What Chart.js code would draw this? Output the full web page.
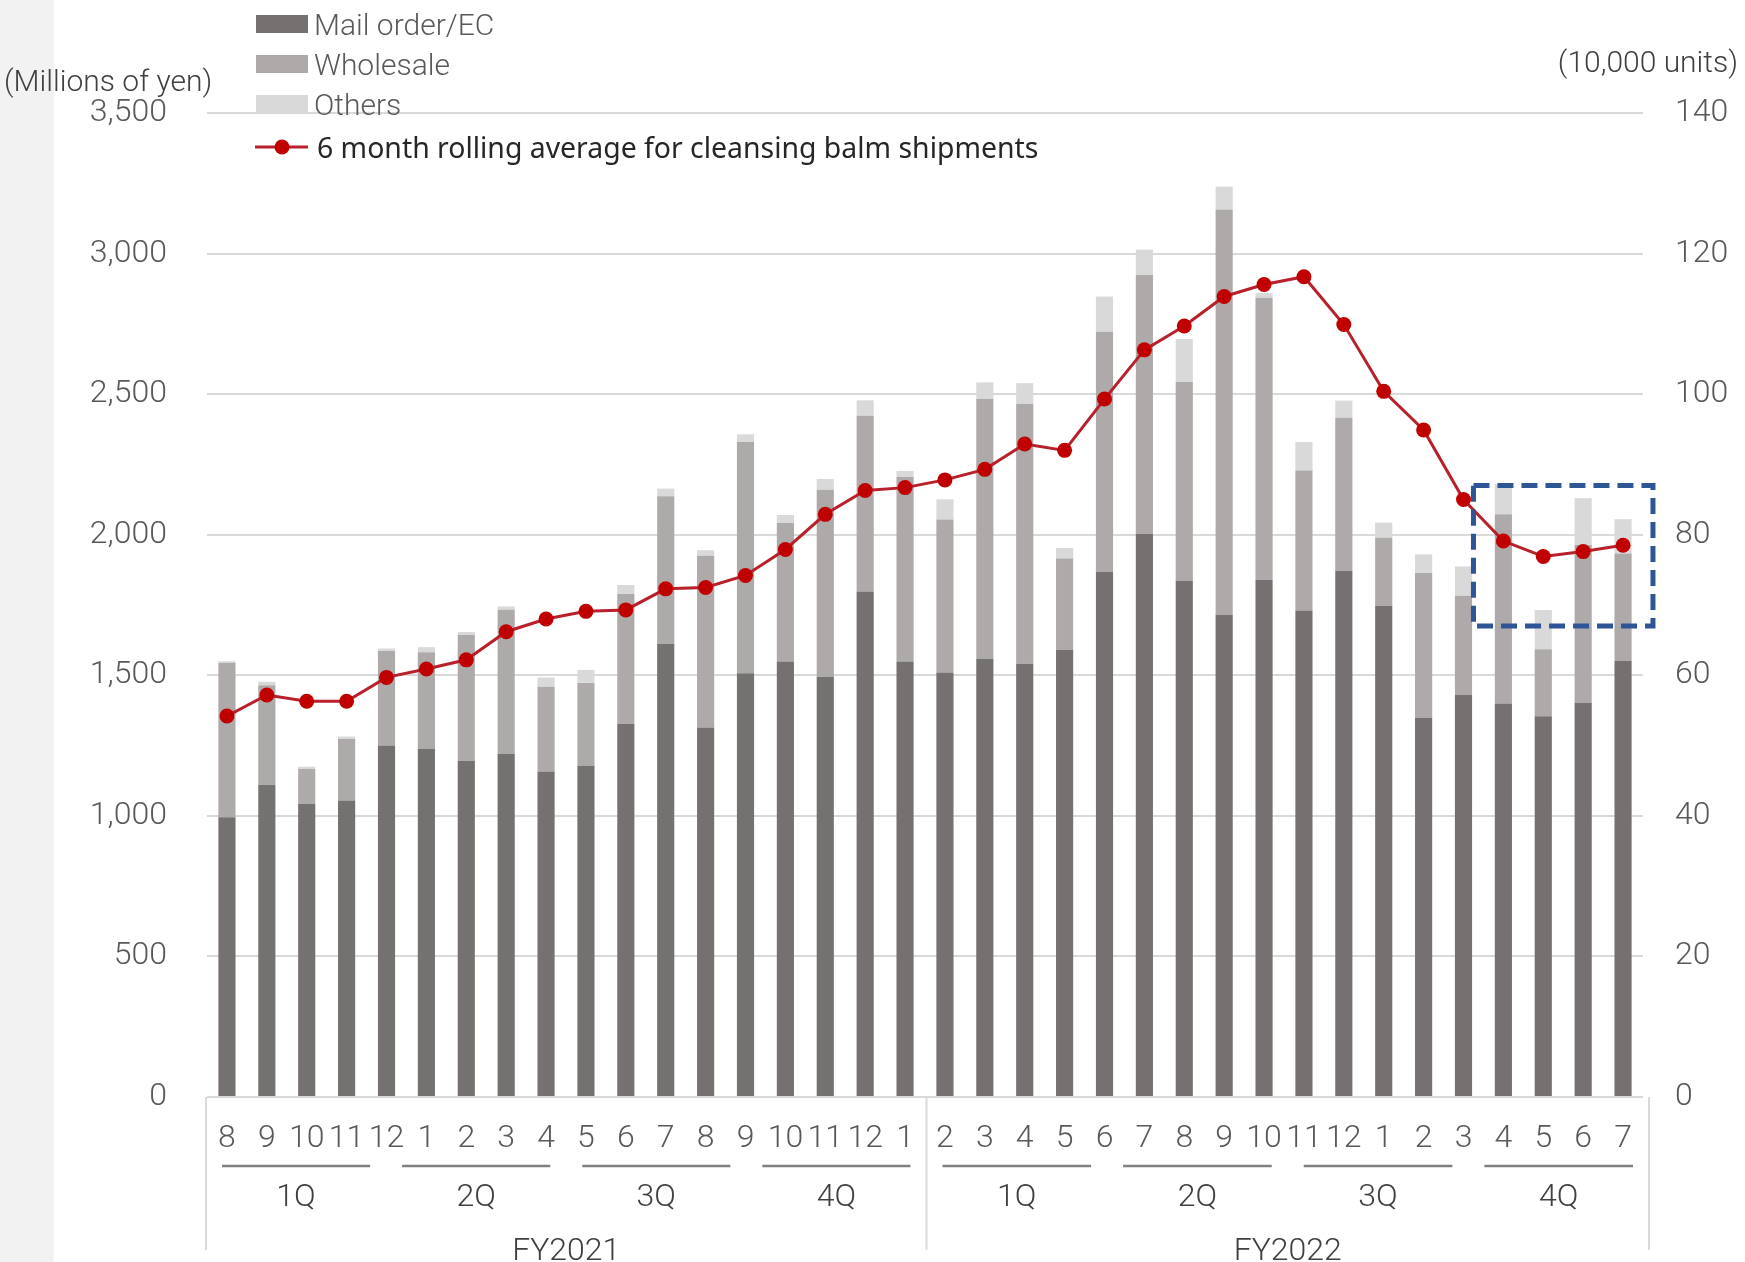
<!DOCTYPE html>
<html>
<head>
<meta charset="utf-8">
<title>Sales by channel and cleansing balm shipments</title>
<script src="https://cdn.jsdelivr.net/npm/chart.js@4.4.0/dist/chart.umd.min.js"></script>
<style>
  html, body { margin: 0; padding: 0; background: #fff; }
  #wrap { position: relative; width: 1745px; height: 1262px; }
</style>
</head>
<body>
<div id="wrap"><canvas id="chart" width="1745" height="1262"></canvas></div>
<script>
// Months: FY2021 runs Aug-Jan (18 months), FY2022 runs Feb-Jul (18 months)
const months = ['8', '9', '10', '11', '12', '1', '2', '3', '4', '5', '6', '7', '8', '9', '10', '11', '12', '1',
                '2', '3', '4', '5', '6', '7', '8', '9', '10', '11', '12', '1', '2', '3', '4', '5', '6', '7'];
const fiscalYears = ['FY2021', 'FY2022'];
const quarters = ['1Q', '2Q', '3Q', '4Q'];
const monthsPerYear = 18;

// Sales, millions of yen
const mailOrder = [995, 1111, 1042, 1055, 1250, 1239, 1196, 1220, 1158, 1177, 1328, 1612, 1314, 1507, 1549, 1495, 1798, 1549,
                   1510, 1559, 1541, 1591, 1867, 2003, 1836, 1715, 1840, 1730, 1872, 1747, 1348, 1431, 1400, 1354, 1402, 1552];
const wholesale = [550, 354, 125, 218, 336, 343, 447, 513, 301, 296, 461, 525, 611, 823, 494, 665, 625, 656,
                   544, 925, 925, 324, 855, 921, 707, 1442, 1003, 498, 544, 242, 516, 352, 673, 239, 561, 381];
const others = [5, 12, 8, 9, 9, 18, 11, 12, 33, 46, 32, 27, 20, 27, 27, 38, 55, 22,
                72, 58, 73, 38, 125, 90, 153, 81, 17, 102, 61, 54, 66, 104, 107, 139, 167, 122];

// 6 month rolling average of cleansing balm shipments, 10,000 units
const balmAvg = [54.2, 57.2, 56.3, 56.3, 59.7, 60.9, 62.2, 66.2, 68.0, 69.1, 69.3, 72.3, 72.5, 74.2, 77.9, 82.9, 86.3, 86.7,
                 87.8, 89.3, 92.9, 92.0, 99.3, 106.3, 109.7, 113.9, 115.6, 116.7, 109.9, 100.4, 94.9, 85.0, 79.1, 76.9, 77.6, 78.5];

const yenTicks = [0, 500, 1000, 1500, 2000, 2500, 3000, 3500];
const unitTicks = [0, 20, 40, 60, 80, 100, 120, 140];

// highlighted area (last four months), category index range and yen range
const boxRange = [31.25, 35.75];
const boxLevels = [1675, 2175];

const FONT = 'Roboto, "Noto Sans", sans-serif';
const TICK_COLOR = '#595959';

const decorations = {
  id: 'decorations',
  beforeDraw(chart) {
    const ctx = chart.ctx;
    ctx.save();
    ctx.fillStyle = '#ffffff';
    ctx.fillRect(0, 0, chart.width, chart.height);
    ctx.fillStyle = '#f2f2f2';
    ctx.fillRect(0, 0, 54, chart.height);
    ctx.restore();
  },
  afterDraw(chart) {
    const ctx = chart.ctx;
    const x = chart.scales.x;
    const y = chart.scales.y;
    const bottom = chart.chartArea.bottom;
    ctx.save();

    // category separators of the two-level axis
    const edges = [x.left - 1, x.getPixelForValue(monthsPerYear - 0.5) + 1.5, x.right + 6];
    ctx.strokeStyle = '#d9d9d9';
    ctx.lineWidth = 2;
    edges.forEach(px => {
      ctx.beginPath();
      ctx.moveTo(px, bottom);
      ctx.lineTo(px, bottom + 153);
      ctx.stroke();
    });

    // quarters and fiscal years
    ctx.font = '300 32px ' + FONT;
    ctx.textAlign = 'center';
    ctx.textBaseline = 'middle';
    fiscalYears.forEach((fy, f) => {
      const a0 = edges[f];
      const w = (edges[f + 1] - edges[f]) / quarters.length;
      quarters.forEach((q, k) => {
        const a = a0 + k * w;
        const b = a + w;
        ctx.strokeStyle = '#7f7f7f';
        ctx.lineWidth = 2.5;
        ctx.beginPath();
        ctx.moveTo(a + 16, bottom + 69);
        ctx.lineTo(b - 16, bottom + 69);
        ctx.stroke();
        ctx.fillStyle = '#404040';
        ctx.fillText(q, (a + b) / 2, bottom + 101);
      });
      ctx.fillText(fy, (edges[f] + edges[f + 1]) / 2, bottom + 155);
    });

    // axis titles
    ctx.font = '300 30px ' + FONT;
    ctx.fillStyle = '#404040';
    ctx.textAlign = 'left';
    ctx.fillText('(Millions of yen)', 4, 83);
    ctx.textAlign = 'right';
    ctx.fillText('(10,000 units)', 1738, 64);

    // legend
    const ds = chart.data.datasets;
    ctx.textAlign = 'left';
    [24, 64, 104].forEach((cy, i) => {
      ctx.fillStyle = ds[i].backgroundColor;
      ctx.fillRect(256, cy - 9, 52, 18);
      ctx.fillStyle = '#595959';
      ctx.fillText(ds[i].label, 314, cy + 3);
    });
    // the 3,500 gridline passes over the last legend swatch
    ctx.strokeStyle = '#d9d9d9';
    ctx.lineWidth = 2;
    ctx.beginPath();
    ctx.moveTo(x.left, chart.chartArea.top);
    ctx.lineTo(314, chart.chartArea.top);
    ctx.stroke();

    const line = ds[3];
    ctx.strokeStyle = line.borderColor;
    ctx.lineWidth = 3;
    ctx.beginPath();
    ctx.moveTo(255, 147);
    ctx.lineTo(308, 147);
    ctx.stroke();
    ctx.fillStyle = line.pointBackgroundColor;
    ctx.beginPath();
    ctx.arc(282, 147, 7.5, 0, Math.PI * 2);
    ctx.fill();
    ctx.fillStyle = '#262626';
    ctx.font = '28.4px "Noto Sans", sans-serif';
    ctx.fillText(line.label, 317, 150);

    // dashed highlight box
    const bx0 = x.getPixelForValue(boxRange[0]);
    const bx1 = x.getPixelForValue(boxRange[1]);
    const by0 = y.getPixelForValue(boxLevels[1]);
    const by1 = y.getPixelForValue(boxLevels[0]);
    ctx.setLineDash([16, 8]);
    ctx.lineWidth = 5;
    ctx.strokeStyle = '#2f5597';
    ctx.strokeRect(bx0, by0, bx1 - bx0, by1 - by0);
    ctx.restore();
  }
};

const tickFont = { family: FONT, size: 32, weight: 300 };

new Chart(document.getElementById('chart').getContext('2d'), {
  type: 'bar',
  data: {
    labels: months,
    datasets: [
      { label: 'Mail order/EC', data: mailOrder, backgroundColor: '#767171', stack: 's', order: 1,
        barPercentage: 0.43, categoryPercentage: 1 },
      { label: 'Wholesale', data: wholesale, backgroundColor: '#aeaaaa', stack: 's', order: 1,
        barPercentage: 0.43, categoryPercentage: 1 },
      { label: 'Others', data: others, backgroundColor: '#d9d9d9', stack: 's', order: 1,
        barPercentage: 0.43, categoryPercentage: 1 },
      { label: '6 month rolling average for cleansing balm shipments', type: 'line', data: balmAvg, yAxisID: 'y1',
        borderColor: '#b8202b', borderWidth: 3, pointBackgroundColor: '#c00000', pointBorderColor: '#c00000',
        pointRadius: 7.5, pointBorderWidth: 0, tension: 0, order: 0 }
    ]
  },
  options: {
    responsive: false,
    animation: false,
    devicePixelRatio: 1,
    layout: { padding: { top: 113, left: 0, right: 0, bottom: 0 } },
    plugins: { legend: { display: false }, tooltip: { enabled: false } },
    scales: {
      x: {
        stacked: true,
        grid: { display: false, drawTicks: false },
        border: { display: false },
        ticks: { color: TICK_COLOR, font: tickFont, padding: 23, autoSkip: false, maxRotation: 0 },
        afterFit: s => { s.height = 165; }
      },
      y: {
        stacked: true,
        min: 0, max: 3500,
        grid: { color: '#d9d9d9', lineWidth: 2, drawTicks: false },
        border: { display: false },
        ticks: { color: TICK_COLOR, font: tickFont, padding: 40 },
        afterBuildTicks: s => { s.ticks = yenTicks.map(v => ({ value: v })); },
        afterFit: s => { s.width = 207; }
      },
      y1: {
        position: 'right',
        min: 0, max: 140,
        grid: { display: false, drawTicks: false },
        border: { display: false },
        ticks: { color: TICK_COLOR, font: tickFont, padding: 32 },
        afterBuildTicks: s => { s.ticks = unitTicks.map(v => ({ value: v })); },
        afterFit: s => { s.width = 102; }
      }
    }
  },
  plugins: [decorations]
});
</script>
</body>
</html>
